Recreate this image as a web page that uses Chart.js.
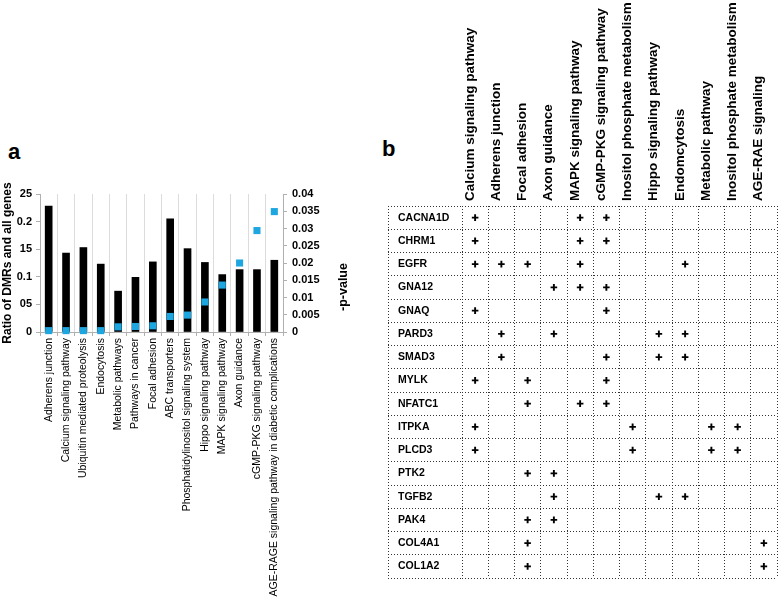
<!DOCTYPE html>
<html>
<head>
<meta charset="utf-8">
<script src="https://cdn.jsdelivr.net/npm/chart.js@4.4.1/dist/chart.umd.min.js"></script>
<style>
  html, body { margin: 0; padding: 0; background: #fff; }
  body { width: 778px; height: 600px; position: relative; overflow: hidden; font-family: "Liberation Sans", Arial, sans-serif; }
  .panel { position: absolute; font: bold 22px "Liberation Sans", Arial, sans-serif; line-height: 1; color: #000; }
  #wrapA { position: absolute; left: 0; top: 170px; width: 380px; height: 430px; }
  #wrapB { position: absolute; left: 380px; top: 0; width: 398px; height: 600px; }
</style>
</head>
<body>
<div class="panel" style="left:8px; top:141px;">a</div>
<div class="panel" style="left:382px; top:138px;">b</div>
<div id="wrapA"><canvas id="chartA"></canvas></div>
<div id="wrapB"><canvas id="chartB"></canvas></div>
<script>
// ---------- Panel a data ----------
const pathwaysA = [
  "Adherens junction",
  "Calcium signaling pathway",
  "Ubiquitin mediated proteolysis",
  "Endocytosis",
  "Metabolic pathways",
  "Pathways in cancer",
  "Focal adhesion",
  "ABC transporters",
  "Phosphatidylinositol signaling system",
  "Hippo signaling pathway",
  "MAPK signaling pathway",
  "Axon guidance",
  "cGMP-PKG signaling pathway",
  "AGE-RAGE signaling pathway in diabetic complications"
];
const ratioValues = [0.228, 0.143, 0.153, 0.123, 0.074, 0.099, 0.127, 0.205, 0.151, 0.126, 0.104, 0.113, 0.113, 0.130];
const pValues = [0.0004, 0.0004, 0.0004, 0.0004, 0.0015, 0.0016, 0.0018, 0.0045, 0.0049, 0.0087, 0.0136, 0.0200, 0.0294, 0.0349];
const leftTickLabels = ["0", "05", "0.1", "15", "0.2", "25"];
const rightTickLabels = ["0", "0.005", "0.01", "0.015", "0.02", "0.025", "0.03", "0.035", "0.04"];
const leftAxisTitle = "Ratio of DMRs and all genes";
const rightAxisTitle = "-p-value";

// ---------- Panel b data ----------
const pathwaysB = [
  "Calcium signaling pathway",
  "Adherens junction",
  "Focal adhesion",
  "Axon guidance",
  "MAPK signaling pathway",
  "cGMP-PKG signaling pathway",
  "Inositol phosphate metabolism",
  "Hippo signaling pathway",
  "Endomcytosis",
  "Metabolic pathway",
  "Inositol phosphate metabolism",
  "AGE-RAE signaling"
];
const genes = ["CACNA1D", "CHRM1", "EGFR", "GNA12", "GNAQ", "PARD3", "SMAD3", "MYLK", "NFATC1", "ITPKA", "PLCD3", "PTK2", "TGFB2", "PAK4", "COL4A1", "COL1A2"];
// column indices (into pathwaysB) marked "+" for each gene
const geneMembership = [
  [0, 4, 5],
  [0, 4, 5],
  [0, 1, 2, 4, 8],
  [3, 4, 5],
  [0, 5],
  [1, 3, 7, 8],
  [1, 5, 7, 8],
  [0, 2, 5],
  [2, 4, 5],
  [0, 6, 9, 10],
  [0, 6, 9, 10],
  [2, 3],
  [3, 7, 8],
  [2, 3],
  [2, 11],
  [2, 11]
];

const FONT = '"Liberation Sans", Arial, sans-serif';
const blue = '#1ea6e0';
const axisGray = '#b0b0b0';

// ---------- Chart a ----------
const rightTitlePlugin = {
  id: 'rightTitle',
  afterDraw(chart) {
    const ctx = chart.ctx;
    const sc = chart.scales.y2;
    ctx.save();
    ctx.font = 'bold 12.5px ' + FONT;
    ctx.fillStyle = '#000';
    ctx.textAlign = 'center';
    ctx.textBaseline = 'middle';
    ctx.translate(sc.right - 36, chart.chartArea.top + 93);
    ctx.rotate(-Math.PI / 2);
    ctx.fillText(rightAxisTitle, 0, 0);
    ctx.restore();
  }
};

new Chart(document.getElementById('chartA'), {
  type: 'bar',
  data: {
    labels: pathwaysA,
    datasets: [
      {
        type: 'line',
        data: pValues,
        yAxisID: 'y2',
        showLine: false,
        pointStyle: 'rect',
        pointRadius: 5,
        pointBackgroundColor: blue,
        pointBorderWidth: 0,
        borderColor: blue,
        backgroundColor: blue,
        clip: false,
        order: 0
      },
      {
        type: 'bar',
        data: ratioValues,
        yAxisID: 'y',
        backgroundColor: '#000',
        barThickness: 7,
        order: 1
      }
    ]
  },
  options: {
    responsive: true,
    maintainAspectRatio: false,
    animation: false,
    layout: { padding: { top: 24, left: 0, right: 0, bottom: 0 } },
    plugins: { legend: { display: false }, tooltip: { enabled: false } },
    scales: {
      x: {
        offset: true,
        grid: { offset: true, color: '#dcdcdc', lineWidth: 1, drawTicks: true, tickLength: 4, tickColor: axisGray },
        border: { display: true, color: axisGray },
        ticks: {
          autoSkip: false, minRotation: 90, maxRotation: 90, padding: 2, color: '#000',
          font: { family: FONT, size: 10.5 }
        },
        afterFit(s) { s.height = 268; }
      },
      y: {
        position: 'left',
        min: 0, max: 0.25,
        grid: { drawOnChartArea: false, drawTicks: true, tickLength: 4, tickColor: axisGray },
        border: { display: true, color: axisGray },
        ticks: {
          stepSize: 0.05, padding: 4, color: '#000',
          font: { family: FONT, size: 11, weight: 'bold' },
          callback: (v, i) => leftTickLabels[i]
        },
        title: {
          display: true, text: leftAxisTitle, color: '#000',
          font: { family: FONT, size: 12, weight: 'bold' },
          padding: { top: 0, bottom: 0 }
        },
        afterFit(s) { s.width = 40; }
      },
      y2: {
        position: 'right',
        min: 0, max: 0.04,
        grid: { drawOnChartArea: false, drawTicks: true, tickLength: 4, tickColor: axisGray },
        border: { display: true, color: axisGray },
        ticks: {
          stepSize: 0.005, padding: 5, color: '#000',
          font: { family: FONT, size: 11, weight: 'bold' },
          callback: (v, i) => rightTickLabels[i]
        },
        afterFit(s) { s.width = 97; }
      }
    }
  },
  plugins: [rightTitlePlugin]
});

// ---------- Chart b ----------
const pathwayKeys = pathwaysB.map((p, i) => i + ':' + p);
const plusPoints = [];
geneMembership.forEach((cols, r) => {
  cols.forEach(c => plusPoints.push({ x: pathwayKeys[c], y: genes[r] }));
});

const DOT = [1, 2];
const LABEL_COL = 74;
const leftBorderPlugin = {
  id: 'leftBorder',
  afterDraw(chart) {
    const ctx = chart.ctx;
    const a = chart.chartArea;
    const x = Math.round(a.left - LABEL_COL) + 0.5;
    ctx.save();
    ctx.strokeStyle = '#333';
    ctx.lineWidth = 1;
    ctx.setLineDash(DOT);
    ctx.beginPath();
    ctx.moveTo(x, a.top);
    ctx.lineTo(x, a.bottom);
    ctx.stroke();
    ctx.restore();
  }
};

new Chart(document.getElementById('chartB'), {
  type: 'scatter',
  data: {
    datasets: [{
      data: plusPoints,
      pointStyle: 'cross',
      pointRadius: 3.3,
      pointBorderWidth: 1.9,
      pointBorderColor: '#000',
      borderColor: '#000',
      backgroundColor: '#000'
    }]
  },
  options: {
    responsive: true,
    maintainAspectRatio: false,
    animation: false,
    layout: { autoPadding: false, padding: { top: 0, left: 18, right: 1, bottom: 22 } },
    plugins: { legend: { display: false }, tooltip: { enabled: false } },
    scales: {
      x: {
        type: 'category',
        position: 'top',
        labels: pathwayKeys,
        offset: true,
        grid: { offset: true, color: '#333', lineWidth: 1, drawTicks: false },
        border: { display: false, dash: DOT },
        ticks: {
          autoSkip: false, minRotation: 90, maxRotation: 90, padding: 5, labelOffset: 11, color: '#000',
          font: { family: FONT, size: 13.5, weight: 'bold' },
          callback: (v) => pathwaysB[v]
        },
        afterFit(s) { s.height = 206; s.paddingLeft = 0; s.paddingRight = 0; }
      },
      y: {
        type: 'category',
        position: 'left',
        labels: genes,
        offset: true,
        grid: {
          offset: true, color: '#333', lineWidth: 1,
          drawTicks: true, tickLength: LABEL_COL, tickColor: '#333', tickBorderDash: DOT, tickWidth: 1
        },
        border: { display: false, dash: DOT },
        ticks: {
          autoSkip: false, crossAlign: 'far', padding: 0, color: '#000',
          font: { family: FONT, size: 10.5, weight: 'bold' }
        },
        afterFit(s) { s.width = 64; s.paddingTop = 0; s.paddingBottom = 0; }
      }
    }
  },
  plugins: [leftBorderPlugin]
});
</script>
</body>
</html>
